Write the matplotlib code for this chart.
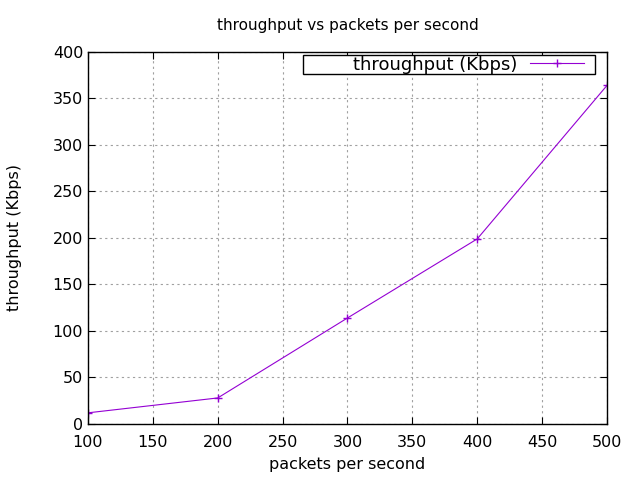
import matplotlib
matplotlib.use("Agg")
import matplotlib.pyplot as plt
from matplotlib.patches import Rectangle

pps = [100, 200, 300, 400, 500]
throughput = [12, 28, 114, 199, 364]

plt.rcParams['font.family'] = ['DejaVu Sans']
fig = plt.figure(figsize=(6.4, 4.8), dpi=100)
ax = fig.add_axes([0.1375, 0.1167, 0.8109, 0.775])

ax.plot(pps, throughput, color='#9400d3', linewidth=0.8, marker='+', markersize=6,
        markeredgewidth=1.0, label='throughput (Kbps)')

ax.set_xlim(100, 500)
ax.set_ylim(0, 400)
ax.set_xticks(range(100, 501, 50))
ax.set_yticks(range(0, 401, 50))
ax.tick_params(direction='in', top=True, right=True, labelsize=11.5, length=5, width=0.8)
ax.tick_params(axis='x', pad=8)
ax.grid(True, color='#a0a0a0', linestyle=(0, (2, 3)), linewidth=0.8)
for s in ax.spines.values():
    s.set_linewidth(1.0)

ax.set_title("throughput vs packets per second", fontsize=11, pad=16)
ax.set_xlabel("packets per second", fontsize=11.5, labelpad=5)
ax.set_ylabel("throughput (Kbps)", fontsize=11.5, labelpad=22)

# legend box drawn by hand, gnuplot style (text right-aligned, sample on the right)
ax.add_patch(Rectangle((0.414, 0.941), 0.563, 0.051, transform=ax.transAxes,
                       facecolor='white', edgecolor='black', linewidth=1.0, zorder=4))
leg = ax.legend(loc='center right', bbox_to_anchor=(0.956, 0.966), fontsize=13,
                frameon=False, handlelength=3.0, borderpad=0, borderaxespad=0,
                markerfirst=False, handletextpad=0.7)
leg.set_zorder(5)

fig.savefig("out.png", dpi=100)
